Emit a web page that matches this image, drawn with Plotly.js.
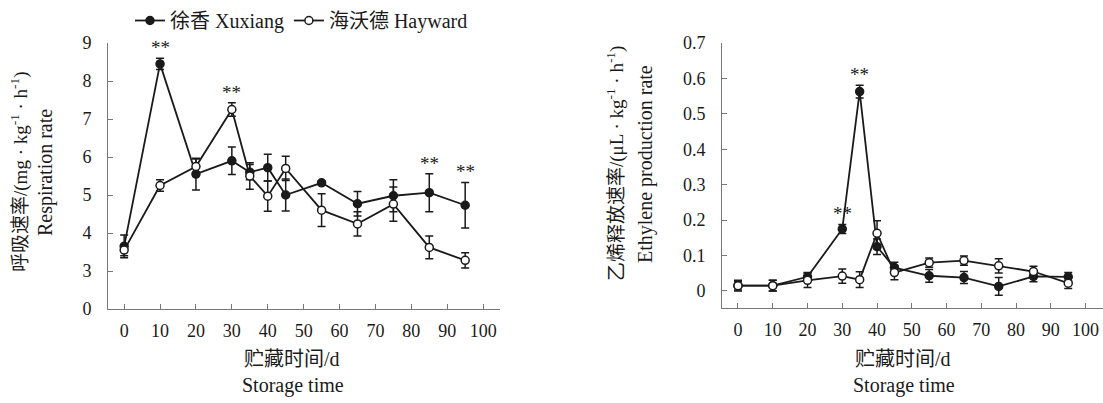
<!DOCTYPE html>
<html><head><meta charset="utf-8">
<script src="https://cdn.plot.ly/plotly-3.0.1.min.js"></script>
<style>html,body{margin:0;padding:0;background:#fff}</style>
</head><body><div id="chart" style="width:1103px;height:403px"></div>
<script>
// Storage days
const days = [0, 10, 20, 30, 35, 40, 45, 55, 65, 75, 85, 95];
// Respiration rate (mg·kg-1·h-1)
const respXuxiang    = [3.65, 8.45, 5.55, 5.90, 5.60, 5.72, 5.00, 5.32, 4.77, 4.98, 5.06, 4.73];
const respXuxiangErr = [0.30, 0.15, 0.42, 0.36, 0.20, 0.35, 0.42, 0.05, 0.32, 0.42, 0.50, 0.60];
const respHayward    = [3.55, 5.25, 5.75, 7.25, 5.50, 4.97, 5.70, 4.60, 4.24, 4.76, 3.62, 3.28];
const respHaywardErr = [0.15, 0.15, 0.20, 0.18, 0.35, 0.40, 0.32, 0.43, 0.32, 0.45, 0.30, 0.20];
// Ethylene production rate (μL·kg-1·h-1)
const ethXuxiang    = [0.015, 0.015, 0.040, 0.175, 0.563, 0.125, 0.066, 0.043, 0.038, 0.013, 0.041, 0.040];
const ethXuxiangErr = [0.012, 0.015, 0.012, 0.013, 0.018, 0.022, 0.015, 0.018, 0.017, 0.025, 0.015, 0.012];
const ethHayward    = [0.015, 0.015, 0.030, 0.042, 0.032, 0.163, 0.052, 0.080, 0.086, 0.071, 0.055, 0.022];
const ethHaywardErr = [0.015, 0.015, 0.020, 0.020, 0.022, 0.035, 0.020, 0.013, 0.013, 0.020, 0.015, 0.015];
// Significance marks (indices into days)
const respSig = [1, 3, 10, 11];
const respSigSeries = ['X', 'H', 'X', 'X'];
const ethSig = [3, 4];
const ethSigSeries = ['X', 'X'];
// Tick labels
const xTicks = [0, 10, 20, 30, 40, 50, 60, 70, 80, 90, 100];
const respTickVals = [2, 3, 4, 5, 6, 7, 8, 9];
const respTickText = ['0', '3', '4', '5', '6', '7', '8', '9'];
const ethTicks = [0, 0.1, 0.2, 0.3, 0.4, 0.5, 0.6, 0.7];
const ethTickText = ['0', '0.1', '0.2', '0.3', '0.4', '0.5', '0.6', '0.7'];

const FONT = '"Liberation Serif", "Times New Roman", "Noto Sans CJK SC", serif';
const INK = '#1a1a1a';
const AX = '#777';

function series(x, y, err, filled, xa, ya, name, show) {
  return {
    x: x, y: y, type: 'scatter', mode: 'lines+markers', name: name, showlegend: show,
    xaxis: xa, yaxis: ya,
    line: {color: INK, width: 1.8},
    marker: {size: 8, color: filled ? INK : '#fff', line: {color: INK, width: 1.5}, symbol: 'circle'},
    error_y: {type: 'data', array: err, visible: true, color: INK, thickness: 1.5, width: 4}
  };
}

const data = [
  series(days, respXuxiang, respXuxiangErr, true, 'x', 'y', '徐香 Xuxiang', true),
  series(days, respHayward, respHaywardErr, false, 'x', 'y', '海沃德 Hayward', true),
  series(days, ethXuxiang, ethXuxiangErr, true, 'x2', 'y2', '徐香 Xuxiang', false),
  series(days, ethHayward, ethHaywardErr, false, 'x2', 'y2', '海沃德 Hayward', false)
];

const ann = [];
function sigMarks(idx, ser, xs, X, Xe, H, He, xref, yref) {
  idx.forEach((i, k) => {
    const top = ser[k] === 'X' ? X[i] + Xe[i] : H[i] + He[i];
    ann.push({x: xs[i], y: top, xref: xref, yref: yref, text: '**', showarrow: false,
      yanchor: 'bottom', yshift: -2, font: {family: FONT, size: 19, color: INK}});
  });
}
sigMarks(respSig, respSigSeries, days, respXuxiang, respXuxiangErr, respHayward, respHaywardErr, 'x', 'y');
sigMarks(ethSig, ethSigSeries, days, ethXuxiang, ethXuxiangErr, ethHayward, ethHaywardErr, 'x2', 'y2');

function txt(t, x, y, angle, size) {
  ann.push({text: t, x: x / 1103, y: 1 - y / 403, xref: 'paper', yref: 'paper', showarrow: false,
    xanchor: 'center', yanchor: 'middle', textangle: angle,
    font: {family: FONT, size: size, color: INK}});
}
txt('呼吸速率/(mg · kg<sup>-1</sup> · h<sup>-1</sup>)', 19, 172, -90, 19);
txt('Respiration rate', 46, 173, -90, 20);
txt('乙烯释放速率/(μL · kg<sup>-1</sup> · h<sup>-1</sup>)', 615, 164, -90, 19);
txt('Ethylene production rate', 645, 164, -90, 20);
txt('贮藏时间/d', 292, 359, 0, 20);
txt('Storage time', 293, 385, 0, 20);
txt('贮藏时间/d', 903, 359, 0, 20);
txt('Storage time', 904, 385, 0, 20);

const axisCommon = {
  showgrid: false, zeroline: false, showline: true, linecolor: AX, linewidth: 1,
  ticks: 'inside', ticklen: 5, tickcolor: AX, tickwidth: 1,
  tickfont: {family: FONT, size: 18, color: INK}, fixedrange: true
};

const layout = {
  width: 1103, height: 403,
  margin: {l: 0, r: 0, t: 0, b: 0},
  paper_bgcolor: '#fff', plot_bgcolor: '#fff',
  showlegend: true,
  legend: {orientation: 'h', x: 130 / 1103, y: 1 - 1 / 403, xanchor: 'left', yanchor: 'top',
    font: {family: FONT, size: 20, color: INK}, itemwidth: 30, bgcolor: 'rgba(0,0,0,0)'},
  xaxis: Object.assign({}, axisCommon, {domain: [108 / 1103, 500 / 1103], range: [-4.5, 104.7],
    tickvals: xTicks, ticklabelstandoff: 5, anchor: 'y'}),
  yaxis: Object.assign({}, axisCommon, {domain: [1 - 309 / 403, 1 - 43 / 403], range: [2, 9],
    tickvals: respTickVals, ticktext: respTickText, ticklabelstandoff: 12, anchor: 'x'}),
  xaxis2: Object.assign({}, axisCommon, {domain: [722 / 1103, 1103 / 1103], range: [-4.6, 105],
    tickvals: xTicks, ticklabelstandoff: 5, anchor: 'y2'}),
  yaxis2: Object.assign({}, axisCommon, {domain: [1 - 308 / 403, 1 - 43 / 403], range: [-0.048, 0.7],
    tickvals: ethTicks, ticktext: ethTickText, ticklabelstandoff: 12, anchor: 'x2'}),
  annotations: ann
};

Plotly.newPlot('chart', data, layout, {displayModeBar: false, staticPlot: true});
</script></body></html>
